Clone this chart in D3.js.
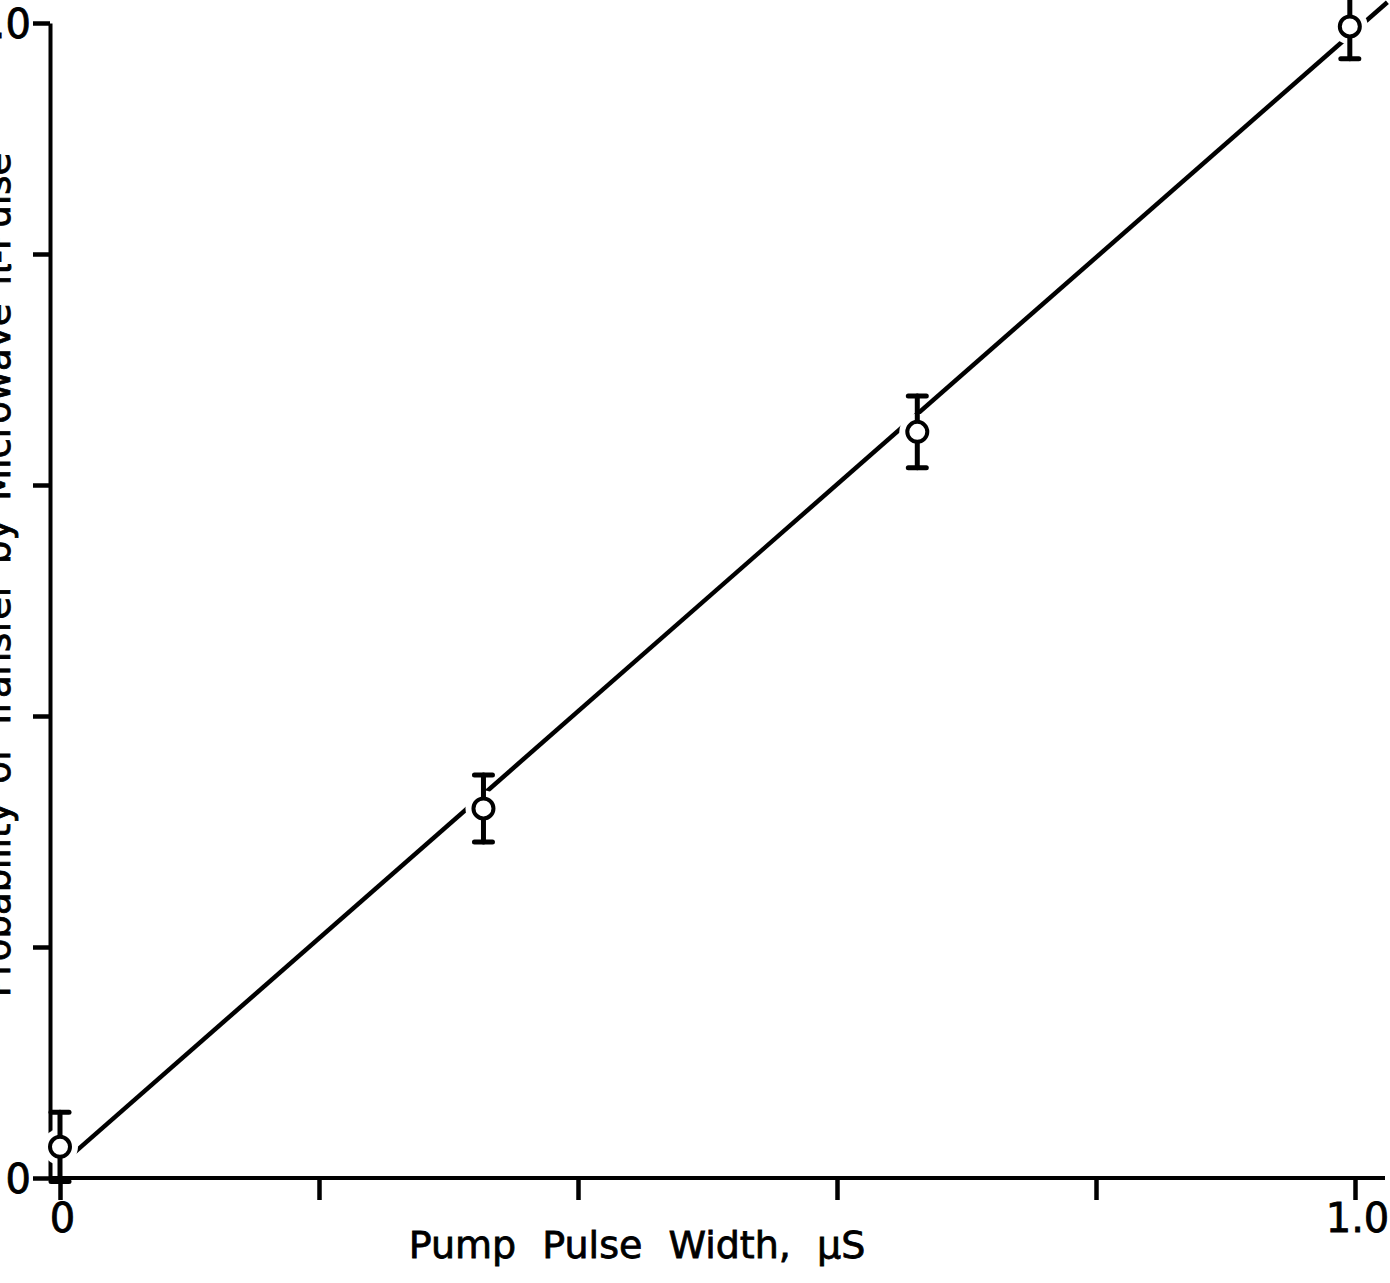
<!DOCTYPE html>
<html>
<head>
<meta charset="utf-8">
<script src="https://cdn.jsdelivr.net/npm/d3@7"></script>
<style>
  body { margin: 0; background: #fff; }
  text { font-family: "DejaVu Sans", "Liberation Sans", sans-serif; fill: #000; stroke: #000; stroke-width: 0.8px; }
</style>
</head>
<body>
<div id="chart"></div>
<script>
// Data
const pulseWidth = [0.0, 0.327, 0.662, 0.996]
const signal = [0.027, 0.320, 0.646, 0.997]
const errors = [0.030, 0.029, 0.031, 0.028]

// fitted straight line, two ends
const fitX = [0.006, 1.025]
const fitY = [0.017, 1.018]

const xTicks = [0, 0.2, 0.4, 0.6, 0.8, 1.0]
const yTicks = [0, 0.2, 0.4, 0.6, 0.8, 1.0]
const labelled = [0, 1.0]

const svgWidth = 1390
const svgHeight = 1283

let svg = d3.select("#chart")
  .append("svg")
  .attr("width", svgWidth)
  .attr("height", svgHeight)

let x = d3.scaleLinear().domain([0, 1]).range([60, 1355])
let y = d3.scaleLinear().domain([0, 1]).range([1178, 23])

const axisLeftX = 50

let fmt = d => labelled.includes(d) ? (d === 0 ? "0" : d3.format(".1f")(d)) : ""

// y axis
let yAxis = svg.append("g")
  .attr("transform", `translate(${axisLeftX},0)`)
  .call(d3.axisLeft(y).tickValues(yTicks).tickSize(17).tickSizeOuter(0).tickFormat(fmt).tickPadding(2))
yAxis.select(".domain").attr("stroke-width", 4)
yAxis.selectAll(".tick line").attr("stroke-width", 4.5)
yAxis.selectAll(".tick text").style("font-size", "40px").attr("dy", "0.36em")

// x axis
let xAxis = svg.append("g")
  .attr("transform", `translate(0,${y(0)})`)
  .call(d3.axisBottom(x).tickValues(xTicks).tickSize(22).tickSizeOuter(0).tickFormat(fmt).tickPadding(4))
xAxis.select(".domain").remove()
xAxis.append("line")
  .attr("x1", axisLeftX).attr("x2", 1385)
  .attr("stroke", "#000").attr("stroke-width", 4)
xAxis.selectAll(".tick line").attr("stroke-width", 4.5)
xAxis.selectAll(".tick text").style("font-size", "40px").attr("x", 2)

// axis titles
svg.append("text")
  .attr("x", 637)
  .attr("y", 1258)
  .attr("text-anchor", "middle")
  .style("font-size", "38px")
  .style("word-spacing", "14px")
  .text("Pump Pulse Width, μS")

svg.append("text")
  .attr("transform", "rotate(-90)")
  .attr("x", -575)
  .attr("y", 10)
  .attr("text-anchor", "middle")
  .style("font-size", "37px")
  .style("word-spacing", "6px")
  .text("Probability of Transfer by Microwave π-Pulse")

// fitted line
let line = d3.line().x(d => x(d[0])).y(d => y(d[1]))
svg.append("path")
  .datum(d3.zip(fitX, fitY))
  .attr("d", line)
  .attr("fill", "none")
  .attr("stroke", "#000")
  .attr("stroke-width", 4.5)

let pts = d3.zip(pulseWidth, signal, errors)

// white gaps in the line round each point
svg.selectAll("circle.gap")
  .data(pts)
  .enter()
  .append("circle")
  .attr("class", "gap")
  .attr("cx", d => x(d[0]))
  .attr("cy", d => y(d[1]))
  .attr("r", 18)
  .attr("fill", "#fff")

// error bars
let bars = svg.selectAll("g.err")
  .data(pts)
  .enter()
  .append("g")
  .attr("class", "err")
  .attr("stroke", "#000")
  .attr("stroke-width", 5)
  .attr("stroke-linecap", "round")

bars.append("line")
  .attr("x1", d => x(d[0])).attr("x2", d => x(d[0]))
  .attr("y1", d => y(d[1] - d[2])).attr("y2", d => y(d[1] + d[2]))
bars.append("line")
  .attr("x1", d => x(d[0]) - 9).attr("x2", d => x(d[0]) + 9)
  .attr("y1", d => y(d[1] + d[2])).attr("y2", d => y(d[1] + d[2]))
bars.append("line")
  .attr("x1", d => x(d[0]) - 9).attr("x2", d => x(d[0]) + 9)
  .attr("y1", d => y(d[1] - d[2])).attr("y2", d => y(d[1] - d[2]))

// open circle markers
svg.selectAll("circle.pt")
  .data(pts)
  .enter()
  .append("circle")
  .attr("class", "pt")
  .attr("cx", d => x(d[0]))
  .attr("cy", d => y(d[1]))
  .attr("r", 10)
  .attr("fill", "#fff")
  .attr("stroke", "#000")
  .attr("stroke-width", 4)
</script>
</body>
</html>
